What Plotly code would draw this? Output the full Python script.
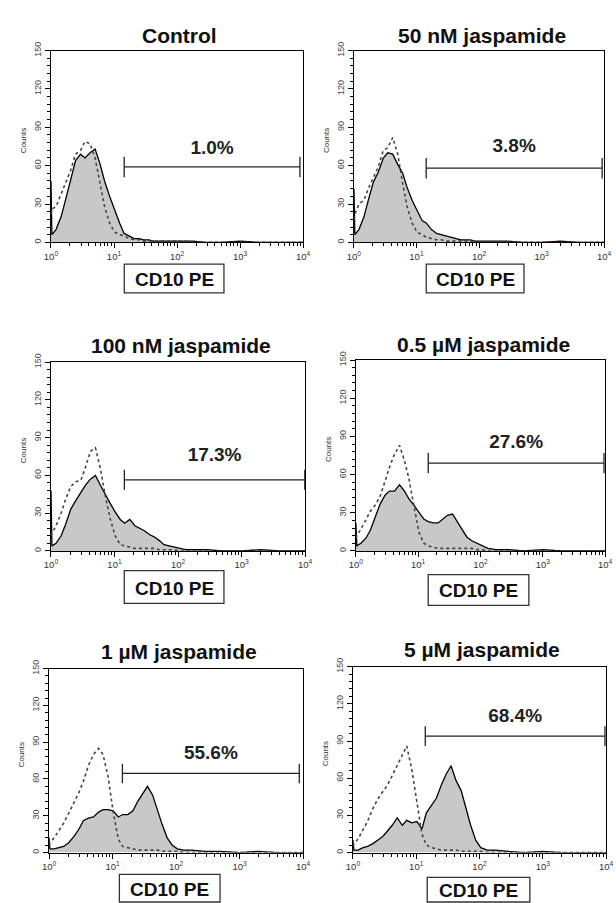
import math
import plotly.graph_objects as go

# ---------------- data ----------------
# channel positions in log10 decades (10^0 .. 10^4)
LOG_CHANNEL = [0.0, 0.015, 0.08, 0.16, 0.23, 0.31, 0.39, 0.47, 0.54, 0.62, 0.70, 0.78, 0.85, 0.93,
               1.01, 1.09, 1.16, 1.24, 1.32, 1.40, 1.47, 1.55, 1.63, 1.71, 1.78, 1.86, 1.94, 2.02,
               2.12, 2.25, 2.45, 2.70, 3.00, 3.30, 3.60, 3.80, 4.00]

TITLES = ["Control", "50 nM jaspamide", "100 nM jaspamide",
          "0.5 \u00b5M jaspamide", "1 \u00b5M jaspamide", "5 \u00b5M jaspamide"]

# treated sample (filled histogram)
SOLID_CONTROL = [48, 6, 10, 20, 33, 48, 64, 69, 66, 70, 73, 61, 48, 36,
                 25, 15, 7, 5, 3, 3, 2, 2, 1, 1, 1, 1, 1, 1, 1, 1, 0, 0, 1, 0, 0, 0, 0]
SOLID_50NM = [42, 6, 10, 20, 33, 47, 55, 66, 70, 69, 61, 54, 43, 33,
              25, 17, 15, 10, 7, 6, 5, 4, 3, 2, 2, 2, 1, 1, 1, 1, 1, 0, 0, 1, 0, 0, 0]
SOLID_100NM = [48, 4, 6, 12, 21, 33, 40, 47, 52, 57, 60, 52, 45, 38,
               31, 25, 22, 25, 20, 18, 16, 13, 11, 8, 5, 4, 3, 2, 1, 1, 1, 0, 0, 1, 0, 0, 0]
SOLID_05UM = [22, 4, 6, 10, 16, 26, 37, 44, 47, 47, 52, 47, 41, 36,
              30, 25, 23, 22, 22, 25, 28, 29, 23, 17, 11, 8, 6, 4, 2, 1, 1, 0, 1, 0, 0, 0, 0]
SOLID_1UM = [12, 3, 3, 4, 5, 8, 13, 19, 26, 28, 29, 33, 35, 35,
             34, 29, 31, 31, 34, 42, 48, 54, 47, 34, 23, 12, 6, 3, 2, 2, 1, 1, 0, 1, 0, 0, 0]
SOLID_5UM = [10, 2, 2, 4, 5, 7, 10, 13, 17, 22, 28, 22, 26, 24,
             25, 19, 32, 38, 44, 55, 63, 70, 58, 50, 37, 22, 10, 4, 2, 2, 1, 0, 1, 0, 0, 0, 0]

# unstained / isotype control (dotted histogram)
DOT_CONTROL = [22, 26, 28, 38, 46, 56, 69, 72, 79, 77, 66, 46, 28, 15,
               8, 6, 5, 3, 2, 2, 1, 1, 1, 1, 1, 1, 1, 1, 1, 0, 0, 0, 0, 0, 0, 0, 0]
DOT_50NM = [18, 22, 30, 33, 42, 51, 59, 72, 74, 82, 69, 46, 28, 15,
            8, 6, 4, 3, 2, 2, 1, 1, 1, 1, 1, 1, 1, 0, 0, 0, 0, 0, 0, 0, 0, 0, 0]
DOT_100NM = [12, 14, 20, 30, 41, 51, 55, 56, 66, 79, 82, 65, 45, 26,
             12, 5, 4, 3, 2, 2, 2, 2, 2, 1, 1, 1, 1, 0, 0, 0, 0, 0, 0, 0, 0, 0, 0]
DOT_05UM = [10, 12, 17, 25, 31, 36, 43, 55, 66, 76, 83, 71, 57, 36,
            15, 6, 4, 3, 2, 2, 2, 2, 2, 2, 2, 2, 1, 1, 0, 0, 0, 0, 0, 0, 0, 0, 0]
DOT_1UM = [6, 8, 12, 18, 24, 32, 40, 49, 58, 71, 80, 85, 80, 62,
           33, 11, 5, 4, 3, 2, 2, 2, 2, 2, 1, 1, 1, 1, 0, 0, 0, 0, 0, 0, 0, 0, 0]
DOT_5UM = [5, 7, 11, 18, 25, 35, 43, 49, 54, 62, 70, 79, 86, 67,
           40, 15, 6, 4, 3, 2, 2, 2, 2, 1, 1, 1, 1, 1, 0, 0, 0, 0, 0, 0, 0, 0, 0]

SOLIDS = [SOLID_CONTROL, SOLID_50NM, SOLID_100NM, SOLID_05UM, SOLID_1UM, SOLID_5UM]
DOTS = [DOT_CONTROL, DOT_50NM, DOT_100NM, DOT_05UM, DOT_1UM, DOT_5UM]

# marker gate (CD10 positive region)
GATE_LO = [14.5, 14.3, 14.3, 14.5, 14.3, 13.9]
GATE_HI = [8900, 9300, 9900, 9600, 8700, 9600]
GATE_Y = [59, 58, 56.5, 69, 64.5, 94]
GATE_PCT = ["1.0%", "3.8%", "17.3%", "27.6%", "55.6%", "68.4%"]
LABEL_Y = [73, 74, 75, 84.5, 80, 109]

X_TICK_VALUES = [1, 10, 100, 1000, 10000]
X_TICK_TEXT = ["10<sup>0</sup>", "10<sup>1</sup>", "10<sup>2</sup>", "10<sup>3</sup>", "10<sup>4</sup>"]
Y_TICK_VALUES = [0, 30, 60, 90, 120, 150]
X_LABEL = "CD10 PE"
Y_LABEL = "Counts"

# ---------------- layout constants (pixels) ----------------
W, H = 616, 903
PLOT_BOXES = [(45, 303, 42, 236), (355, 611, 42, 236),
              (45, 305, 357, 548), (357, 612, 355, 548),
              (43, 303, 667, 853), (354, 613, 665, 853)]
TITLE_Y = [27, 27, 340, 339, 650, 648]
XBOX = [(120, 222, 258, 287), (429, 529, 258, 287),
        (120, 222, 568, 601), (431, 534, 572, 603),
        (115, 218, 875, 903), (430, 535, 878, 903)]

FONT = "Liberation Sans, Arial, sans-serif"

def px(x):
    return x / W

def py(y):
    return 1 - y / H

minor_x = [m * 10 ** d for d in range(4) for m in range(2, 10)]

fig = go.Figure()
shapes = []
annotations = []

for i in range(6):
    sfx = "" if i == 0 else str(i + 1)
    xref, yref = "x" + sfx, "y" + sfx
    xs = [10 ** v for v in LOG_CHANNEL]

    fig.add_trace(go.Scatter(x=xs, y=SOLIDS[i], mode="lines", xaxis=xref, yaxis=yref,
                             line=dict(color="black", width=1.3), fill="tozeroy",
                             fillcolor="#c8c8c8", hoverinfo="skip"))
    fig.add_trace(go.Scatter(x=xs, y=DOTS[i], mode="lines", xaxis=xref, yaxis=yref,
                             line=dict(color="#444", width=1.6, dash="dot"),
                             hoverinfo="skip"))
    lo, hi, gy = GATE_LO[i], GATE_HI[i], GATE_Y[i]
    cap = 8
    fig.add_trace(go.Scatter(x=[lo, lo, None, lo, hi, None, hi, hi],
                             y=[gy - cap, gy + cap, None, gy, gy, None, gy - cap, gy + cap],
                             mode="lines", xaxis=xref, yaxis=yref,
                             line=dict(color="#222", width=1.3), hoverinfo="skip"))
    fig.add_trace(go.Scatter(x=[math.sqrt(lo * hi)], y=[LABEL_Y[i]], mode="text",
                             text=["<b>" + GATE_PCT[i] + "</b>"], xaxis=xref, yaxis=yref,
                             textfont=dict(size=19, family=FONT, color="#222"),
                             hoverinfo="skip"))

    x0, x1, y0, y1 = PLOT_BOXES[i]
    fig.layout["xaxis" + sfx] = dict(
        type="log", range=[0, 4], domain=[px(x0), px(x1)], anchor=yref,
        showline=True, mirror=True, linecolor="black", linewidth=1.1,
        ticks="outside", ticklen=5, tickcolor="black", tickwidth=1.1,
        tickvals=X_TICK_VALUES, ticktext=X_TICK_TEXT,
        tickfont=dict(size=9.5, family=FONT, color="#333"),
        minor=dict(tickmode="array", tickvals=minor_x, ticks="outside", ticklen=3,
                   tickcolor="black", tickwidth=1),
        showgrid=False, zeroline=False, fixedrange=True)
    fig.layout["yaxis" + sfx] = dict(
        range=[0, 150], domain=[py(y1), py(y0)], anchor=xref,
        showline=True, mirror=True, linecolor="black", linewidth=1.3,
        ticks="outside", ticklen=5, tickcolor="black", tickwidth=1.1,
        tickvals=Y_TICK_VALUES, tickangle=-90,
        tickfont=dict(size=9, family=FONT, color="#444"),
        minor=dict(tickmode="linear", tick0=0, dtick=6, ticks="outside", ticklen=3,
                   tickcolor="black", tickwidth=1),
        showgrid=False, zeroline=False, fixedrange=True)

    # panel title
    annotations.append(dict(text="<b>" + TITLES[i] + "</b>", x=px((x0 + x1) / 2 + 3),
                            y=py(TITLE_Y[i]), xref="paper", yref="paper",
                            showarrow=False, xanchor="center", yanchor="middle",
                            font=dict(size=21, family=FONT, color="#111")))
    # y label
    annotations.append(dict(text=Y_LABEL, x=px(x0 - 28), y=py((y0 + y1) / 2 - 6),
                            xref="paper", yref="paper", showarrow=False, textangle=-90,
                            xanchor="center", yanchor="middle",
                            font=dict(size=8, family=FONT, color="#333")))
    # x label box
    bx0, bx1, by0, by1 = XBOX[i]
    shapes.append(dict(type="rect", xref="paper", yref="paper",
                       x0=px(bx0), x1=px(bx1), y0=py(by1), y1=py(by0),
                       line=dict(color="#333", width=1.3), fillcolor="white", layer="below"))
    annotations.append(dict(text="<b>" + X_LABEL + "</b>", x=px((bx0 + bx1) / 2),
                            y=py((by0 + by1) / 2 + 1), xref="paper", yref="paper",
                            showarrow=False, xanchor="center", yanchor="middle",
                            font=dict(size=19, family=FONT, color="#111")))

fig.update_layout(width=W, height=H, margin=dict(l=0, r=0, t=0, b=0),
                  paper_bgcolor="white", plot_bgcolor="white", showlegend=False,
                  shapes=shapes, annotations=annotations)

fig.write_html("out.html")
